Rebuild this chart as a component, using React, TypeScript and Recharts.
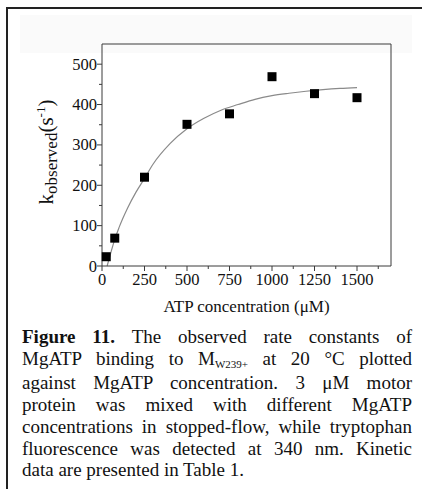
import { ComposedChart, Line, Scatter, XAxis, YAxis } from "recharts";

// measured points
const atpConc = [25, 75, 250, 500, 750, 1000, 1250, 1500];
const kObserved = [23, 69, 220, 351, 377, 469, 427, 417];

// fitted curve
const fitConc = [30, 50, 75, 100, 150, 200, 250, 300, 400, 500, 600, 700, 800, 900, 1000, 1100, 1200, 1300, 1400, 1500];
const fitK = [0, 30, 66, 95, 143, 183, 217, 252, 303, 340, 366, 386, 400, 413, 422, 428, 433, 437, 440, 442];

const xTicks = [0, 125, 250, 375, 500, 625, 750, 875, 1000, 1125, 1250, 1375, 1500, 1625];
const yTicks = [0, 50, 100, 150, 200, 250, 300, 350, 400, 450, 500];

const captionLines = [
  "The observed rate constants of",
  "MgATP binding to M",
  "against MgATP concentration. 3 μM motor",
  "protein was mixed with different MgATP",
  "concentrations in stopped-flow, while tryptophan",
  "fluorescence was detected at 340 nm. Kinetic",
  "data are presented in Table 1.",
];

const points = atpConc.map((x, i) => ({ x, y: kObserved[i] }));
const fit = fitConc.map((x, i) => ({ x, y: fitK[i] }));

const FONT = "'Liberation Serif', 'Times New Roman', serif";
const AXIS = "#3a3a3a";

const LeftTick = (props: any) => {
  const { x, y, payload } = props;
  const major = payload.value % 100 === 0;
  return (
    <g>
      <line x1={x} x2={x - (major ? 5 : 3)} y1={y} y2={y} stroke={AXIS} />
      {major && (
        <text x={x - 5} y={y + 5.5} textAnchor="end" fontSize={16.5} fontFamily={FONT} fill="#111">
          {payload.value}
        </text>
      )}
    </g>
  );
};

const BottomTick = (props: any) => {
  const { x, y, payload } = props;
  const major = payload.value % 250 === 0;
  return (
    <g>
      <line x1={x} x2={x} y1={y} y2={y + (major ? 5 : 3)} stroke={AXIS} />
      {major && (
        <text x={x} y={y + 19} textAnchor="middle" fontSize={16.5} fontFamily={FONT} fill="#111">
          {payload.value}
        </text>
      )}
    </g>
  );
};

const TopTick = (props: any) => {
  const { x, y, payload } = props;
  const major = payload.value % 250 === 0;
  return <line x1={x} x2={x} y1={y} y2={y + (major ? 5 : 3)} stroke={AXIS} />;
};

const RightTick = (props: any) => {
  const { x, y, payload } = props;
  const major = payload.value % 100 === 0;
  return <line x1={x} x2={x - (major ? 5 : 3)} y1={y} y2={y} stroke={AXIS} />;
};

const YTitle = (props: any) => {
  const vb = props.viewBox || {};
  const cx = vb.x + vb.width - 49;
  const cy = vb.y + vb.height / 2 - 3;
  return (
    <text
      x={cx}
      y={cy}
      transform={`rotate(-90,${cx},${cy})`}
      textAnchor="middle"
      fontFamily={FONT}
      fontSize={21}
      fill="#111"
    >
      k
      <tspan fontSize={17} dy={4}>observed</tspan>
      <tspan dy={-4}>(s</tspan>
      <tspan fontSize={13} dy={-8}>-1</tspan>
      <tspan dy={8}>)</tspan>
    </text>
  );
};

const XTitle = (props: any) => {
  const vb = props.viewBox || {};
  return (
    <text
      x={vb.x + vb.width / 2}
      y={vb.y + 46}
      textAnchor="middle"
      fontFamily={FONT}
      fontSize={17}
      fill="#111"
    >
      ATP concentration (μM)
    </text>
  );
};

const Square = (props: any) => {
  const { cx, cy } = props;
  return <rect x={cx - 4.5} y={cy - 4.5} width={9} height={9} fill="#000" />;
};

export default function App() {
  return (
    <div
      style={{
        position: "absolute",
        left: 0,
        top: 0,
        width: 422,
        height: 489,
        overflow: "hidden",
        background: "#fff",
      }}
    >
      <div
        style={{
          position: "absolute",
          left: 6,
          top: 7,
          width: 430,
          height: 500,
          borderLeft: "2px solid #222",
          borderTop: "2px solid #222",
        }}
      />
      <div style={{ position: "absolute", left: 20, top: 15, width: 392, height: 38, background: "#fafafa" }} />
      <div style={{ position: "absolute", left: 0, top: 0 }}>
        <ComposedChart width={422} height={316} margin={{ top: 43, right: 30, bottom: 0, left: 42 }}>
          <XAxis
            xAxisId="bottom"
            dataKey="x"
            type="number"
            domain={[0, 1700]}
            ticks={xTicks}
            interval={0}
            height={50}
            tickSize={0}
            tickMargin={0}
            tick={BottomTick}
            axisLine={{ stroke: AXIS }}
            label={{ content: XTitle }}
          />
          <XAxis
            xAxisId="top"
            orientation="top"
            type="number"
            domain={[0, 1700]}
            ticks={xTicks}
            interval={0}
            height={1}
            tickSize={0}
            tickMargin={0}
            tick={TopTick}
            axisLine={{ stroke: AXIS }}
          />
          <YAxis
            yAxisId="left"
            type="number"
            domain={[0, 550]}
            ticks={yTicks}
            interval={0}
            width={60}
            tickSize={0}
            tickMargin={0}
            tick={LeftTick}
            axisLine={{ stroke: AXIS }}
            label={{ content: YTitle }}
          />
          <YAxis
            yAxisId="right"
            orientation="right"
            type="number"
            domain={[0, 550]}
            ticks={yTicks}
            interval={0}
            width={1}
            tickSize={0}
            tickMargin={0}
            tick={RightTick}
            axisLine={{ stroke: AXIS }}
          />
          <Line
            xAxisId="bottom"
            yAxisId="left"
            data={fit}
            dataKey="y"
            type="monotone"
            stroke="#8a8a8a"
            strokeWidth={1.2}
            dot={false}
            isAnimationActive={false}
          />
          <Scatter
            xAxisId="bottom"
            yAxisId="left"
            data={points}
            dataKey="y"
            shape={Square}
            isAnimationActive={false}
          />
        </ComposedChart>
      </div>
      <div
        style={{
          position: "absolute",
          left: 22,
          top: 326,
          width: 390,
          fontFamily: FONT,
          fontSize: 19,
          lineHeight: "21.7px",
          color: "#111",
        }}
      >
        {captionLines.map((line, i) => {
          const last = i === captionLines.length - 1;
          return (
            <div
              key={i}
              style={{ textAlign: "justify", textAlignLast: last ? "left" : "justify", whiteSpace: "nowrap" }}
            >
              {i === 0 && <b>Figure 11. </b>}
              {line}
              {i === 1 && (
                <>
                  <span style={{ fontSize: 11, position: "relative", top: 3 }}>W239+</span>
                  {" at 20 °C plotted"}
                </>
              )}
            </div>
          );
        })}
      </div>
    </div>
  );
}
